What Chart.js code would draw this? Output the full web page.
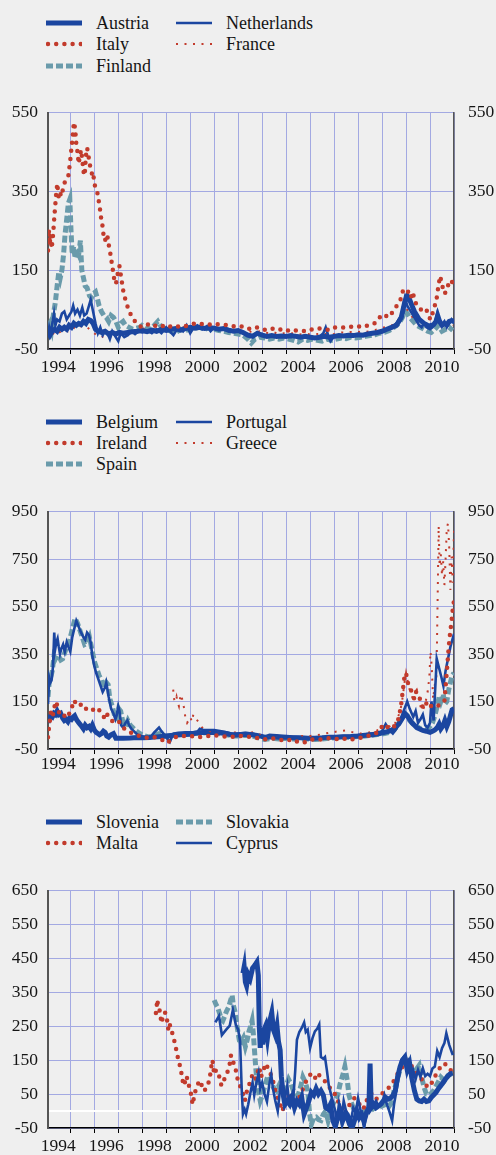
<!DOCTYPE html>
<html><head><meta charset="utf-8">
<script src="https://cdn.jsdelivr.net/npm/chart.js@4.4.1/dist/chart.umd.min.js"></script>
<style>
html,body{margin:0;padding:0;background:#efefef;}
body{width:496px;height:1155px;position:relative;overflow:hidden;font-family:"Liberation Serif","Times New Roman",serif;}
canvas{position:absolute;left:0;}
.lg{position:absolute;height:22px;line-height:22px;font-size:18px;color:#151515;white-space:nowrap;}
.lg svg{position:absolute;left:0;top:6px;}
.lg span{position:absolute;top:0;}
</style></head><body>
<canvas id="c1" width="496" height="292" style="top:88px"></canvas>
<canvas id="c2" width="496" height="290" style="top:487px"></canvas>
<canvas id="c3" width="496" height="289" style="top:866px"></canvas>
<script>
// ---------- tick labels ----------
const yTicks1 = [-50, 150, 350, 550];
const yTicks2 = [-50, 150, 350, 550, 750, 950];
const yTicks3 = [-50, 50, 150, 250, 350, 450, 550, 650];
const yearLabels = [1994, 1996, 1998, 2000, 2002, 2004, 2006, 2008, 2010];
const yearLines = [1995,1996,1997,1998,1999,2000,2001,2002,2003,2004,2005,2006,2007,2008,2009,2010,2011];

// ---------- panel 1 ----------
const austria = [[1994.07,-5],[1994.15,-15],[1994.25,-5],[1994.35,0],[1994.45,-5],[1994.55,5],[1994.65,0],[1994.75,5],[1994.85,0],[1994.95,10],[1995.05,5],[1995.15,15],[1995.25,10],[1995.35,15],[1995.45,12],[1995.55,20],[1995.65,15],[1995.75,25],[1995.85,22],[1995.95,15],[1996.05,0],[1996.15,-5],[1996.3,-8],[1996.45,-5],[1996.6,-12],[1996.75,-8],[1996.9,-12],[1997.05,-8],[1997.2,-10],[1997.4,-8],[1997.6,-6],[1997.8,-5],[1998.0,-3],[1998.2,-6],[1998.4,-2],[1998.6,-5],[1998.8,0],[1999.0,-3],[1999.2,0],[1999.4,2],[1999.6,-2],[1999.8,2],[2000.0,5],[2000.2,3],[2000.4,5],[2000.6,2],[2000.8,4],[2001.0,3],[2001.2,0],[2001.4,2],[2001.6,-2],[2001.8,-5],[2002.0,-3],[2002.2,-8],[2002.4,-15],[2002.6,-18],[2002.8,-10],[2003.0,-15],[2003.2,-18],[2003.4,-16],[2003.6,-18],[2003.8,-17],[2004.0,-18],[2004.2,-16],[2004.4,-18],[2004.6,-20],[2004.8,-18],[2005.0,-20],[2005.2,-22],[2005.4,-20],[2005.6,-18],[2005.8,-20],[2006.0,-18],[2006.2,-16],[2006.4,-17],[2006.6,-15],[2006.8,-16],[2007.0,-14],[2007.2,-15],[2007.4,-12],[2007.6,-10],[2007.8,-8],[2008.0,-5],[2008.2,0],[2008.4,5],[2008.6,10],[2008.8,30],[2008.95,70],[2009.05,85],[2009.15,75],[2009.25,60],[2009.35,45],[2009.45,35],[2009.55,25],[2009.65,20],[2009.75,15],[2009.85,12],[2009.95,8],[2010.05,10],[2010.15,12],[2010.25,20],[2010.32,35],[2010.4,20],[2010.5,10],[2010.6,15],[2010.7,12],[2010.8,20],[2010.9,22],[2011.0,20]];
const netherlands = [[1994.07,-15],[1994.12,5],[1994.18,-10],[1994.25,15],[1994.32,40],[1994.38,10],[1994.45,25],[1994.55,20],[1994.65,40],[1994.75,45],[1994.85,25],[1994.95,35],[1995.05,45],[1995.12,60],[1995.2,40],[1995.3,50],[1995.4,35],[1995.5,55],[1995.58,35],[1995.68,40],[1995.78,60],[1995.85,75],[1995.95,45],[1996.05,15],[1996.15,-10],[1996.25,5],[1996.35,-15],[1996.45,-5],[1996.55,-10],[1996.65,-25],[1996.75,-5],[1996.85,-15],[1997.0,-30],[1997.1,-10],[1997.25,-20],[1997.4,-15],[1997.55,-5],[1997.7,-12],[1997.85,-5],[1998.0,-8],[1998.2,-3],[1998.4,-10],[1998.6,0],[1998.8,-10],[1999.0,5],[1999.15,-5],[1999.3,-15],[1999.5,5],[1999.7,-5],[1999.85,10],[2000.0,-10],[2000.15,5],[2000.3,10],[2000.5,0],[2000.7,8],[2000.85,-5],[2001.0,5],[2001.2,0],[2001.4,3],[2001.6,-5],[2001.8,-3],[2002.0,-5],[2002.2,-10],[2002.4,-12],[2002.6,-15],[2002.8,-10],[2003.0,-12],[2003.2,-18],[2003.4,-15],[2003.6,-20],[2003.8,-16],[2004.0,-18],[2004.2,-20],[2004.4,-15],[2004.6,-18],[2004.8,-20],[2005.0,-18],[2005.2,-22],[2005.4,-18],[2005.55,-10],[2005.65,5],[2005.75,-15],[2005.85,-30],[2006.0,-18],[2006.2,-15],[2006.4,-18],[2006.6,-14],[2006.8,-16],[2007.0,-15],[2007.2,-13],[2007.4,-12],[2007.6,-10],[2007.8,-7],[2008.0,-5],[2008.2,0],[2008.4,5],[2008.6,15],[2008.8,35],[2008.95,80],[2009.05,60],[2009.15,50],[2009.25,40],[2009.35,30],[2009.45,20],[2009.55,10],[2009.65,5],[2009.75,15],[2009.85,5],[2010.0,0],[2010.1,5],[2010.2,15],[2010.3,40],[2010.38,20],[2010.48,10],[2010.6,20],[2010.7,5],[2010.8,15],[2010.9,25],[2011.0,15]];
const france = [[1994.07,-10],[1994.2,-20],[1994.35,-5],[1994.5,-10],[1994.7,0],[1994.9,-5],[1995.1,5],[1995.3,0],[1995.5,10],[1995.7,5],[1995.9,-5],[1996.1,-15],[1996.3,-20],[1996.5,-15],[1996.7,-18],[1996.9,-12],[1997.1,-10],[1997.3,-8],[1997.5,-5],[1997.7,-3],[1997.9,0],[1998.1,2],[1998.3,-2],[1998.5,3],[1998.7,0],[1998.9,5],[1999.1,2],[1999.3,5],[1999.5,0],[1999.7,5],[1999.9,3],[2000.1,5],[2000.3,8],[2000.5,5],[2000.7,7],[2000.9,5],[2001.1,3],[2001.3,5],[2001.5,2],[2001.7,0],[2001.9,-2],[2002.1,-5],[2002.3,-8],[2002.5,-6],[2002.7,-8],[2002.9,-5],[2003.1,-8],[2003.3,-10],[2003.5,-8],[2003.7,-12],[2003.9,-10],[2004.1,-12],[2004.3,-10],[2004.5,-12],[2004.7,-14],[2004.9,-12],[2005.1,-14],[2005.3,-12],[2005.5,-10],[2005.7,-12],[2005.9,-14],[2006.1,-10],[2006.3,-8],[2006.5,-9],[2006.7,-7],[2006.9,-8],[2007.1,-6],[2007.3,-7],[2007.5,-5],[2007.7,-2],[2007.9,2],[2008.1,5],[2008.3,8],[2008.5,12],[2008.7,25],[2008.9,45],[2009.0,55],[2009.1,45],[2009.2,35],[2009.35,25],[2009.5,15],[2009.65,8],[2009.8,10],[2009.95,5],[2010.1,8],[2010.25,15],[2010.35,20],[2010.5,8],[2010.65,12],[2010.8,15],[2010.95,10]];
const finland = [[1994.07,5],[1994.15,15],[1994.22,0],[1994.3,40],[1994.38,70],[1994.45,110],[1994.52,145],[1994.58,130],[1994.65,150],[1994.72,190],[1994.78,240],[1994.85,280],[1994.92,320],[1994.98,330],[1995.03,250],[1995.08,190],[1995.14,210],[1995.2,180],[1995.28,200],[1995.35,190],[1995.42,225],[1995.48,150],[1995.55,130],[1995.62,110],[1995.7,105],[1995.8,85],[1995.88,80],[1995.95,90],[1996.05,95],[1996.12,80],[1996.2,60],[1996.3,45],[1996.4,35],[1996.5,30],[1996.6,20],[1996.7,35],[1996.8,30],[1996.9,20],[1997.0,5],[1997.1,15],[1997.2,20],[1997.3,10],[1997.45,5],[1997.6,0],[1997.75,3],[1997.9,5],[1998.0,10],[1998.15,5],[1998.35,0],[1998.5,10],[1998.65,20],[1998.8,5],[1999.0,0],[1999.2,-5],[1999.4,-8],[1999.6,0],[1999.8,-3],[2000.0,0],[2000.2,3],[2000.4,5],[2000.6,0],[2000.8,5],[2001.0,0],[2001.2,-3],[2001.4,-5],[2001.6,-8],[2001.8,-10],[2002.0,-12],[2002.2,-15],[2002.4,-25],[2002.55,-35],[2002.7,-25],[2002.9,-20],[2003.1,-22],[2003.3,-25],[2003.5,-22],[2003.7,-25],[2003.9,-22],[2004.1,-25],[2004.3,-28],[2004.5,-32],[2004.7,-25],[2004.9,-28],[2005.1,-25],[2005.3,-28],[2005.5,-30],[2005.7,-25],[2005.9,-28],[2006.1,-25],[2006.3,-22],[2006.5,-24],[2006.7,-20],[2006.9,-22],[2007.1,-20],[2007.3,-18],[2007.5,-16],[2007.7,-14],[2007.9,-10],[2008.1,-8],[2008.3,-3],[2008.5,5],[2008.7,15],[2008.85,30],[2008.95,45],[2009.05,40],[2009.15,30],[2009.3,20],[2009.45,10],[2009.6,5],[2009.75,0],[2009.9,-5],[2010.05,-8],[2010.2,0],[2010.35,10],[2010.5,-5],[2010.65,0],[2010.8,5],[2010.95,-3]];
const italy = [[1994.07,200],[1994.1,255],[1994.14,215],[1994.18,240],[1994.22,205],[1994.26,225],[1994.3,255],[1994.34,290],[1994.38,320],[1994.42,350],[1994.46,370],[1994.5,340],[1994.55,330],[1994.6,345],[1994.65,340],[1994.7,360],[1994.78,375],[1994.85,380],[1994.92,390],[1995.0,430],[1995.05,460],[1995.1,490],[1995.15,525],[1995.2,510],[1995.25,470],[1995.3,450],[1995.35,420],[1995.4,440],[1995.45,455],[1995.5,430],[1995.55,400],[1995.6,390],[1995.65,440],[1995.7,460],[1995.75,445],[1995.8,420],[1995.85,410],[1995.9,395],[1995.95,400],[1996.0,370],[1996.05,360],[1996.1,355],[1996.15,340],[1996.2,320],[1996.25,300],[1996.3,275],[1996.35,260],[1996.4,230],[1996.45,225],[1996.5,240],[1996.55,235],[1996.6,215],[1996.65,200],[1996.7,180],[1996.75,160],[1996.8,140],[1996.85,120],[1996.9,115],[1996.95,130],[1997.0,150],[1997.05,160],[1997.1,140],[1997.15,120],[1997.2,100],[1997.25,85],[1997.3,75],[1997.35,65],[1997.4,55],[1997.5,40],[1997.6,28],[1997.7,20],[1997.8,12],[1997.9,8],[1998.0,5],[1998.15,8],[1998.3,15],[1998.45,10],[1998.6,8],[1998.75,5],[1998.9,10],[1999.05,5],[1999.2,8],[1999.4,5],[1999.6,10],[1999.8,8],[2000.0,12],[2000.2,15],[2000.4,12],[2000.6,15],[2000.8,12],[2001.0,15],[2001.2,12],[2001.4,10],[2001.6,12],[2001.8,8],[2002.0,5],[2002.2,8],[2002.4,2],[2002.6,0],[2002.8,5],[2003.0,0],[2003.2,-2],[2003.4,2],[2003.6,-3],[2003.8,0],[2004.0,-5],[2004.2,0],[2004.4,-3],[2004.6,-2],[2004.8,-5],[2005.0,0],[2005.2,-2],[2005.4,2],[2005.6,0],[2005.8,-2],[2006.0,5],[2006.2,3],[2006.4,5],[2006.6,8],[2006.8,5],[2007.0,8],[2007.2,5],[2007.4,10],[2007.6,12],[2007.8,20],[2007.95,35],[2008.1,38],[2008.25,30],[2008.4,40],[2008.55,55],[2008.7,65],[2008.8,80],[2008.88,100],[2008.95,102],[2009.05,100],[2009.12,90],[2009.2,80],[2009.28,95],[2009.35,75],[2009.45,60],[2009.55,55],[2009.65,48],[2009.75,45],[2009.85,50],[2009.95,30],[2010.05,25],[2010.12,45],[2010.2,60],[2010.28,80],[2010.35,110],[2010.42,135],[2010.48,120],[2010.55,100],[2010.62,90],[2010.7,105],[2010.78,115],[2010.85,110],[2010.92,120],[2011.0,140]];

// ---------- panel 2 ----------
const belgium = [[1994.07,60],[1994.12,80],[1994.18,90],[1994.25,85],[1994.32,100],[1994.38,95],[1994.45,110],[1994.52,95],[1994.6,100],[1994.68,80],[1994.75,70],[1994.82,75],[1994.9,65],[1994.97,80],[1995.05,75],[1995.12,85],[1995.18,90],[1995.25,75],[1995.32,65],[1995.4,55],[1995.48,45],[1995.55,35],[1995.62,50],[1995.7,40],[1995.78,45],[1995.85,35],[1995.92,50],[1996.0,30],[1996.08,20],[1996.15,15],[1996.22,10],[1996.3,15],[1996.38,25],[1996.45,20],[1996.52,5],[1996.6,0],[1996.7,10],[1996.8,15],[1996.9,-5],[1997.0,-5],[1997.2,-5],[1997.5,-4],[1997.8,-2],[1998.0,-3],[1998.3,-2],[1998.5,0],[1998.8,3],[1999.0,5],[1999.3,8],[1999.6,10],[2000.0,12],[2000.3,18],[2000.6,20],[2000.9,20],[2001.2,18],[2001.5,15],[2001.8,8],[2002.0,10],[2002.3,12],[2002.6,10],[2002.9,5],[2003.1,0],[2003.4,2],[2003.7,0],[2004.0,0],[2004.3,-3],[2004.6,-3],[2004.9,-5],[2005.2,-5],[2005.5,-3],[2005.8,0],[2006.1,0],[2006.4,2],[2006.7,3],[2007.0,5],[2007.3,8],[2007.6,10],[2007.9,15],[2008.1,20],[2008.3,25],[2008.5,35],[2008.7,55],[2008.85,80],[2008.95,100],[2009.05,90],[2009.15,75],[2009.25,60],[2009.35,50],[2009.45,40],[2009.55,35],[2009.7,28],[2009.85,25],[2010.0,20],[2010.1,25],[2010.2,30],[2010.3,40],[2010.38,55],[2010.45,35],[2010.55,50],[2010.62,70],[2010.7,45],[2010.78,65],[2010.85,90],[2010.92,115],[2011.0,120]];
const portugal = [[1994.07,140],[1994.12,250],[1994.17,230],[1994.22,240],[1994.28,300],[1994.33,440],[1994.37,370],[1994.42,400],[1994.47,415],[1994.52,380],[1994.57,350],[1994.62,370],[1994.7,390],[1994.77,360],[1994.85,400],[1994.92,380],[1995.0,360],[1995.08,420],[1995.15,450],[1995.25,490],[1995.35,465],[1995.45,440],[1995.55,420],[1995.62,410],[1995.7,440],[1995.78,430],[1995.85,400],[1995.92,340],[1996.0,300],[1996.08,270],[1996.15,250],[1996.25,220],[1996.35,190],[1996.45,210],[1996.5,230],[1996.6,170],[1996.7,120],[1996.8,100],[1996.88,75],[1996.93,90],[1997.0,130],[1997.05,110],[1997.12,50],[1997.2,40],[1997.3,60],[1997.38,70],[1997.45,50],[1997.55,35],[1997.65,25],[1997.8,10],[1997.95,5],[1998.1,0],[1998.3,-5],[1998.5,20],[1998.7,40],[1998.8,25],[1999.0,0],[1999.15,-20],[1999.3,15],[1999.5,18],[1999.8,20],[2000.1,20],[2000.3,22],[2000.4,35],[2000.55,30],[2000.8,30],[2001.0,30],[2001.3,25],[2001.5,20],[2001.7,15],[2002.0,15],[2002.3,18],[2002.6,15],[2002.9,5],[2003.1,0],[2003.3,10],[2003.6,8],[2003.9,5],[2004.2,2],[2004.5,0],[2004.8,-5],[2005.1,-5],[2005.4,-3],[2005.7,0],[2006.0,3],[2006.3,5],[2006.6,5],[2006.9,8],[2007.2,10],[2007.5,15],[2007.8,18],[2008.0,25],[2008.15,55],[2008.3,30],[2008.45,15],[2008.6,35],[2008.75,70],[2008.9,110],[2009.05,150],[2009.15,120],[2009.3,85],[2009.4,110],[2009.5,60],[2009.6,75],[2009.7,95],[2009.8,50],[2009.9,40],[2010.0,60],[2010.06,150],[2010.15,70],[2010.28,330],[2010.38,290],[2010.48,250],[2010.56,215],[2010.65,280],[2010.75,330],[2010.85,380],[2011.0,435]];
const spain = [[1994.07,170],[1994.12,230],[1994.18,250],[1994.25,280],[1994.32,340],[1994.38,330],[1994.45,345],[1994.52,340],[1994.6,325],[1994.68,330],[1994.75,350],[1994.85,380],[1994.95,400],[1995.05,440],[1995.12,470],[1995.2,500],[1995.3,480],[1995.4,450],[1995.5,420],[1995.6,390],[1995.7,395],[1995.8,420],[1995.9,370],[1996.0,320],[1996.1,290],[1996.2,260],[1996.3,240],[1996.4,210],[1996.5,230],[1996.58,220],[1996.65,160],[1996.75,130],[1996.85,90],[1996.95,80],[1997.02,120],[1997.1,110],[1997.2,60],[1997.3,45],[1997.4,70],[1997.5,50],[1997.6,40],[1997.75,25],[1997.9,15],[1998.1,5],[1998.3,0],[1998.5,10],[1998.7,15],[1998.9,5],[1999.1,5],[1999.4,10],[1999.7,12],[2000.0,15],[2000.3,15],[2000.6,18],[2000.9,20],[2001.2,15],[2001.5,10],[2001.8,5],[2002.0,5],[2002.3,8],[2002.6,5],[2002.9,-5],[2003.1,-10],[2003.4,-5],[2003.7,-8],[2004.0,-5],[2004.3,-8],[2004.6,-10],[2004.9,-8],[2005.2,-10],[2005.5,-8],[2005.8,-5],[2006.1,-3],[2006.4,0],[2006.7,0],[2007.0,3],[2007.3,5],[2007.6,8],[2007.9,12],[2008.1,15],[2008.3,20],[2008.5,30],[2008.7,60],[2008.85,85],[2008.95,100],[2009.05,90],[2009.15,70],[2009.3,55],[2009.45,45],[2009.6,35],[2009.75,40],[2009.9,35],[2010.0,45],[2010.1,60],[2010.2,90],[2010.3,130],[2010.38,170],[2010.45,150],[2010.55,180],[2010.62,140],[2010.7,150],[2010.78,200],[2010.85,230],[2010.92,260],[2011.0,270]];
const ireland = [[1994.07,0],[1994.1,30],[1994.14,60],[1994.18,100],[1994.22,110],[1994.27,90],[1994.32,120],[1994.37,140],[1994.42,150],[1994.48,115],[1994.55,100],[1994.62,90],[1994.72,95],[1994.82,80],[1994.92,90],[1995.0,110],[1995.08,130],[1995.15,155],[1995.22,145],[1995.3,135],[1995.38,130],[1995.45,138],[1995.52,140],[1995.6,125],[1995.7,115],[1995.8,115],[1995.9,110],[1996.0,120],[1996.1,125],[1996.2,115],[1996.3,100],[1996.4,85],[1996.5,105],[1996.6,80],[1996.7,70],[1996.8,65],[1996.9,70],[1997.0,70],[1997.1,55],[1997.2,40],[1997.35,30],[1997.5,20],[1997.7,10],[1997.9,5],[1998.1,0],[1998.3,-5],[1998.5,0],[1998.7,-5],[1998.9,-15],[1999.05,-25],[1999.2,-10],[1999.4,0],[1999.6,3],[1999.8,5],[2000.0,3],[2000.2,5],[2000.4,0],[2000.6,2],[2000.8,5],[2001.0,8],[2001.2,5],[2001.4,3],[2001.6,0],[2001.8,2],[2002.0,5],[2002.3,3],[2002.6,0],[2002.9,-5],[2003.2,-10],[2003.5,-5],[2003.8,-12],[2004.0,-15],[2004.2,-10],[2004.4,-20],[2004.6,-15],[2004.8,-22],[2005.0,-12],[2005.2,-8],[2005.4,-10],[2005.7,-5],[2006.0,-5],[2006.2,-10],[2006.4,-5],[2006.6,-12],[2006.8,-8],[2007.0,-5],[2007.2,0],[2007.4,5],[2007.6,10],[2007.8,20],[2008.0,45],[2008.1,55],[2008.25,40],[2008.4,35],[2008.55,50],[2008.7,80],[2008.8,140],[2008.87,200],[2008.93,250],[2009.0,270],[2009.05,240],[2009.1,220],[2009.2,200],[2009.28,175],[2009.35,160],[2009.42,190],[2009.5,185],[2009.58,160],[2009.65,140],[2009.72,120],[2009.8,130],[2009.88,150],[2009.95,140],[2010.05,130],[2010.15,125],[2010.3,130],[2010.45,140],[2010.6,150],[2010.72,300],[2010.78,380],[2010.84,440],[2010.9,490],[2010.95,540],[2011.0,575]];
const greece = [[1999.29,200],[1999.33,160],[1999.38,150],[1999.43,170],[1999.48,145],[1999.53,130],[1999.58,165],[1999.63,180],[1999.68,150],[1999.75,120],[1999.8,80],[1999.87,60],[1999.93,70],[2000.0,85],[2000.07,65],[2000.13,95],[2000.2,85],[2000.3,70],[2000.4,55],[2000.5,40],[2000.6,35],[2000.7,30],[2000.85,25],[2001.0,28],[2001.2,25],[2001.4,20],[2001.6,15],[2001.8,20],[2002.0,18],[2002.3,15],[2002.6,20],[2002.9,10],[2003.2,5],[2003.5,8],[2003.8,5],[2004.1,3],[2004.4,0],[2004.7,5],[2005.0,5],[2005.3,8],[2005.6,15],[2005.9,20],[2006.2,25],[2006.5,28],[2006.8,20],[2007.1,15],[2007.4,18],[2007.7,25],[2008.0,35],[2008.2,60],[2008.35,40],[2008.5,50],[2008.65,80],[2008.75,110],[2008.82,140],[2008.9,200],[2008.95,240],[2009.0,270],[2009.08,230],[2009.15,200],[2009.22,185],[2009.3,150],[2009.38,190],[2009.45,200],[2009.52,180],[2009.6,130],[2009.68,110],[2009.75,125],[2009.82,150],[2009.9,190],[2009.97,250],[2010.02,360],[2010.07,300],[2010.13,160],[2010.2,220],[2010.27,260],[2010.32,600],[2010.36,890],[2010.4,720],[2010.45,770],[2010.5,680],[2010.55,740],[2010.6,640],[2010.65,750],[2010.7,880],[2010.75,900],[2010.8,800],[2010.85,620],[2010.9,760],[2010.95,650],[2011.0,870]];

// ---------- panel 3 ----------
const slovenia = [[2002.2,406],[2002.25,425],[2002.3,380],[2002.35,369],[2002.42,402],[2002.5,390],[2002.6,421],[2002.7,430],[2002.78,439],[2002.84,400],[2002.88,250],[2002.92,186],[2002.97,233],[2003.02,196],[2003.08,240],[2003.15,252],[2003.22,215],[2003.3,260],[2003.4,290],[2003.47,240],[2003.55,224],[2003.62,250],[2003.68,205],[2003.75,180],[2003.8,102],[2003.88,47],[2003.95,19],[2004.05,30],[2004.15,20],[2004.25,40],[2004.35,10],[2004.45,30],[2004.55,20],[2004.65,40],[2004.75,-9],[2004.85,10],[2004.95,30],[2005.05,55],[2005.15,47],[2005.25,66],[2005.35,50],[2005.45,60],[2005.55,47],[2005.65,10],[2005.75,5],[2005.85,20],[2005.95,-28],[2006.05,-46],[2006.15,-20],[2006.25,0],[2006.35,-30],[2006.45,-10],[2006.55,-20],[2006.65,-40],[2006.75,-50],[2006.85,-28],[2006.95,0],[2007.05,-20],[2007.15,-10],[2007.25,-30],[2007.35,-5],[2007.45,10],[2007.5,140],[2007.55,10],[2007.65,20],[2007.75,10],[2007.85,15],[2007.95,20],[2008.05,30],[2008.15,40],[2008.25,35],[2008.35,38],[2008.45,45],[2008.55,60],[2008.65,100],[2008.75,130],[2008.85,150],[2008.95,159],[2009.05,121],[2009.15,140],[2009.25,94],[2009.35,60],[2009.45,35],[2009.55,30],[2009.65,28],[2009.75,35],[2009.85,28],[2009.95,30],[2010.05,40],[2010.15,47],[2010.25,55],[2010.35,66],[2010.45,75],[2010.55,84],[2010.65,95],[2010.75,103],[2010.85,110],[2010.95,112]];
const malta = [[1998.57,289],[1998.63,328],[1998.66,309],[1998.7,306],[1998.75,285],[1998.8,259],[1998.88,281],[1998.95,291],[1999.03,270],[1999.08,243],[1999.13,260],[1999.2,240],[1999.28,224],[1999.35,203],[1999.42,180],[1999.48,159],[1999.55,140],[1999.62,117],[1999.67,96],[1999.72,75],[1999.78,85],[1999.85,103],[1999.92,80],[2000.0,64],[2000.05,43],[2000.1,19],[2000.15,38],[2000.22,60],[2000.3,75],[2000.38,90],[2000.45,80],[2000.52,71],[2000.6,59],[2000.68,75],[2000.75,80],[2000.82,100],[2000.88,131],[2000.93,150],[2001.0,108],[2001.08,121],[2001.15,110],[2001.22,100],[2001.3,75],[2001.38,84],[2001.46,103],[2001.55,115],[2001.62,126],[2001.7,164],[2001.77,145],[2001.83,140],[2001.9,121],[2001.96,98],[2002.05,80],[2002.12,65],[2002.2,50],[2002.28,30],[2002.35,55],[2002.45,75],[2002.55,100],[2002.65,110],[2002.72,95],[2002.8,112],[2002.88,130],[2002.95,100],[2003.05,120],[2003.15,140],[2003.25,125],[2003.35,110],[2003.45,90],[2003.55,60],[2003.65,40],[2003.75,20],[2003.85,0],[2003.95,30],[2004.05,47],[2004.15,40],[2004.25,28],[2004.35,10],[2004.45,25],[2004.55,40],[2004.65,55],[2004.75,75],[2004.85,90],[2004.95,100],[2005.05,112],[2005.15,105],[2005.25,94],[2005.35,108],[2005.45,100],[2005.55,94],[2005.65,85],[2005.75,75],[2005.85,66],[2005.95,60],[2006.05,47],[2006.15,30],[2006.25,19],[2006.35,10],[2006.45,-9],[2006.55,5],[2006.65,20],[2006.75,30],[2006.85,38],[2006.95,28],[2007.05,20],[2007.15,25],[2007.25,10],[2007.35,30],[2007.45,45],[2007.55,52],[2007.65,43],[2007.75,35],[2007.85,40],[2007.95,47],[2008.05,55],[2008.15,60],[2008.25,66],[2008.35,75],[2008.45,85],[2008.55,94],[2008.65,110],[2008.75,121],[2008.85,130],[2008.95,140],[2009.05,150],[2009.15,140],[2009.25,131],[2009.35,121],[2009.45,110],[2009.55,100],[2009.65,94],[2009.75,85],[2009.85,75],[2009.95,70],[2010.05,80],[2010.15,94],[2010.25,108],[2010.35,121],[2010.45,130],[2010.55,140],[2010.65,138],[2010.75,130],[2010.85,121],[2010.95,115]];
const slovakia = [[2001.0,327],[2001.07,315],[2001.14,306],[2001.22,289],[2001.3,270],[2001.36,266],[2001.44,280],[2001.52,295],[2001.6,306],[2001.68,325],[2001.75,341],[2001.8,311],[2001.88,290],[2001.95,252],[2002.02,220],[2002.08,196],[2002.15,205],[2002.22,215],[2002.3,190],[2002.38,210],[2002.45,235],[2002.52,250],[2002.58,266],[2002.63,230],[2002.68,180],[2002.73,130],[2002.78,90],[2002.85,56],[2002.92,30],[2003.0,45],[2003.1,70],[2003.2,95],[2003.3,103],[2003.4,80],[2003.5,66],[2003.6,60],[2003.7,75],[2003.8,60],[2003.9,56],[2004.0,75],[2004.1,94],[2004.2,80],[2004.3,60],[2004.4,50],[2004.5,47],[2004.6,70],[2004.7,100],[2004.8,85],[2004.9,60],[2004.98,-9],[2005.05,-40],[2005.15,-20],[2005.25,-18],[2005.35,-25],[2005.45,-28],[2005.55,-10],[2005.65,0],[2005.75,-28],[2005.85,0],[2005.95,19],[2006.05,35],[2006.15,47],[2006.25,80],[2006.35,103],[2006.45,131],[2006.55,90],[2006.62,47],[2006.7,28],[2006.8,10],[2006.9,0],[2007.0,-9],[2007.1,0],[2007.2,-5],[2007.3,0],[2007.4,-3],[2007.5,0],[2007.6,5],[2007.7,10],[2007.8,15],[2007.9,12],[2008.0,15],[2008.1,18],[2008.2,20],[2008.3,15],[2008.4,25],[2008.5,60],[2008.6,85],[2008.7,110],[2008.85,146],[2009.0,150],[2009.15,130],[2009.3,110],[2009.45,125],[2009.55,135],[2009.65,100],[2009.75,70],[2009.85,50],[2010.0,48],[2010.15,60],[2010.3,80],[2010.45,100],[2010.6,90],[2010.75,105],[2010.9,110],[2011.0,108]];
const cyprus = [[2001.05,261],[2001.2,280],[2001.32,224],[2001.5,240],[2001.65,252],[2001.78,298],[2001.9,255],[2002.0,240],[2002.08,205],[2002.15,60],[2002.2,-9],[2002.27,5],[2002.33,-9],[2002.42,20],[2002.5,50],[2002.6,84],[2002.67,47],[2002.75,80],[2002.85,112],[2002.92,66],[2003.0,84],[2003.1,50],[2003.2,28],[2003.3,80],[2003.38,108],[2003.45,66],[2003.55,30],[2003.65,0],[2003.75,66],[2003.85,50],[2003.95,38],[2004.05,75],[2004.12,28],[2004.2,45],[2004.3,38],[2004.38,120],[2004.45,210],[2004.55,233],[2004.65,245],[2004.75,261],[2004.82,233],[2004.9,240],[2005.0,186],[2005.1,215],[2005.2,235],[2005.3,243],[2005.38,255],[2005.45,159],[2005.55,154],[2005.62,159],[2005.7,120],[2005.78,75],[2005.88,47],[2005.95,28],[2006.05,0],[2006.12,-28],[2006.2,20],[2006.3,-28],[2006.4,30],[2006.5,0],[2006.6,-10],[2006.7,-30],[2006.8,10],[2006.9,-5],[2007.0,38],[2007.08,10],[2007.17,-20],[2007.25,-50],[2007.35,-10],[2007.45,28],[2007.55,10],[2007.65,20],[2007.75,30],[2007.85,15],[2008.0,20],[2008.1,47],[2008.2,20],[2008.3,0],[2008.42,-28],[2008.5,20],[2008.6,60],[2008.7,100],[2008.8,150],[2008.9,159],[2009.0,140],[2009.1,150],[2009.2,103],[2009.3,120],[2009.4,94],[2009.5,121],[2009.6,100],[2009.7,126],[2009.8,103],[2009.9,110],[2010.0,103],[2010.1,125],[2010.2,131],[2010.3,177],[2010.4,159],[2010.5,185],[2010.6,200],[2010.68,229],[2010.8,195],[2010.95,165]];

// ---------- styles ----------
const BLUE = '#1b46a0', RED = '#c23b2c', TEAL = '#6a9bab', GRID = '#a3a9e2';
const FONT = '"Liberation Serif","Times New Roman",serif';
const STY = {
  thick: {color: BLUE, width: 5, dash: [], cap: 'butt', svgDash: ''},
  thin: {color: BLUE, width: 2.6, dash: [], cap: 'butt', svgDash: ''},
  bigDots: {color: RED, width: 4.5, dash: [0, 8.2], cap: 'round', svgDash: '0 8.2'},
  smallDots: {color: RED, width: 2, dash: [2, 6.5], cap: 'butt', svgDash: '2 6.5'},
  dashed: {color: TEAL, width: 5, dash: [7, 3], cap: 'butt', svgDash: '7 3'}
};

function legend(items) {
  items.forEach(it => {
    const s = STY[it.style];
    const d = document.createElement('div');
    d.className = 'lg';
    d.style.left = it.lx + 'px';
    d.style.top = (it.cy - 11) + 'px';
    d.style.width = '200px';
    d.innerHTML = '<svg width="36" height="10"><line x1="' + (s.cap === 'round' ? 2 : 0) + '" y1="5" x2="36" y2="5" stroke="' + s.color +
      '" stroke-width="' + s.width + '" stroke-linecap="' + s.cap + '"' + (s.svgDash ? ' stroke-dasharray="' + s.svgDash + '"' : '') + '/></svg>' +
      '<span style="left:' + (it.tx - it.lx) + 'px">' + it.name + '</span>';
    document.body.appendChild(d);
  });
}

function makeChart(id, series, yMin, yMax, yTicks, xh, xPad, zeroLine) {
  const ds = series.map(s => {
    const st = STY[s.style];
    return {label: s.name, data: s.data, borderColor: st.color, borderWidth: st.width,
      borderDash: st.dash, borderCapStyle: st.cap, borderJoinStyle: st.cap === 'round' ? 'round' : 'miter',
      pointRadius: 0, tension: 0, fill: false, order: s.z};
  });
  const yt = zeroLine ? yTicks.concat([0]).sort((a, b) => a - b) : yTicks;
  const tickFont = {family: FONT, size: 17.5};
  const yCommon = {
    type: 'linear', min: yMin, max: yMax,
    afterBuildTicks: sc => { sc.ticks = yt.map(v => ({value: v})); },
    ticks: {font: tickFont, color: '#151515', callback: v => (zeroLine && v === 0) ? '' : String(v)}
  };
  new Chart(document.getElementById(id), {
    type: 'line',
    data: {datasets: ds},
    options: {
      responsive: false, animation: false, devicePixelRatio: 1,
      layout: {padding: {top: 12, left: 0, right: 0, bottom: 0}},
      plugins: {legend: {display: false}, tooltip: {enabled: false}},
      scales: {
        x: {
          type: 'linear', min: 1994.07, max: 2011,
          afterBuildTicks: sc => {
            const t = yearLines.concat(yearLabels.map(y => y + 0.5)).sort((a, b) => a - b);
            sc.ticks = t.map(v => ({value: v}));
          },
          afterFit: sc => { sc.height = xh; },
          grid: {
            color: c => (c.tick && Number.isInteger(c.tick.value)) ? GRID : 'rgba(0,0,0,0)',
            tickColor: c => (c.tick && Number.isInteger(c.tick.value)) ? '#000' : 'rgba(0,0,0,0)',
            tickLength: 5, lineWidth: 1
          },
          border: {color: '#000', width: 1.5},
          ticks: {autoSkip: false, maxRotation: 0, minRotation: 0, padding: xPad, font: tickFont, color: '#151515',
            callback: v => (Math.abs(v % 1 - 0.5) < 1e-6) ? String(Math.round(v - 0.5)) : ''}
        },
        y: Object.assign({}, yCommon, {
          position: 'left',
          afterFit: sc => { sc.width = 48; },
          grid: {color: c => (zeroLine && c.tick && c.tick.value === 0) ? '#ffffff' : GRID,
                 lineWidth: c => (zeroLine && c.tick && c.tick.value === 0) ? 2 : 1, drawTicks: false},
          border: {color: '#555', width: 2},
          ticks: Object.assign({}, yCommon.ticks, {padding: 10})
        }),
        y2: Object.assign({}, yCommon, {
          position: 'right',
          afterFit: sc => { sc.width = 42; },
          grid: {drawOnChartArea: false, drawTicks: false},
          border: {color: '#555', width: 1.5},
          ticks: Object.assign({}, yCommon.ticks, {padding: 14})
        })
      }
    }
  });
}

// legends
legend([
  {name: 'Austria', style: 'thick', lx: 46, tx: 96, cy: 23},
  {name: 'Italy', style: 'bigDots', lx: 46, tx: 96, cy: 44},
  {name: 'Finland', style: 'dashed', lx: 46, tx: 96, cy: 66},
  {name: 'Netherlands', style: 'thin', lx: 176, tx: 226, cy: 23},
  {name: 'France', style: 'smallDots', lx: 176, tx: 226, cy: 44},
  {name: 'Belgium', style: 'thick', lx: 46, tx: 96, cy: 422},
  {name: 'Ireland', style: 'bigDots', lx: 46, tx: 96, cy: 443},
  {name: 'Spain', style: 'dashed', lx: 46, tx: 96, cy: 464},
  {name: 'Portugal', style: 'thin', lx: 176, tx: 226, cy: 422},
  {name: 'Greece', style: 'smallDots', lx: 176, tx: 226, cy: 443},
  {name: 'Slovenia', style: 'thick', lx: 46, tx: 96, cy: 822},
  {name: 'Malta', style: 'bigDots', lx: 46, tx: 96, cy: 843},
  {name: 'Slovakia', style: 'dashed', lx: 176, tx: 226, cy: 822},
  {name: 'Cyprus', style: 'thin', lx: 176, tx: 226, cy: 843}
]);

makeChart('c1', [
  {name: 'Italy', style: 'bigDots', data: italy, z: 0},
  {name: 'Netherlands', style: 'thin', data: netherlands, z: 1},
  {name: 'Austria', style: 'thick', data: austria, z: 2},
  {name: 'France', style: 'smallDots', data: france, z: 3},
  {name: 'Finland', style: 'dashed', data: finland, z: 4}
], -50, 550, yTicks1, 31, 3, false);

makeChart('c2', [
  {name: 'Ireland', style: 'bigDots', data: ireland, z: 0},
  {name: 'Portugal', style: 'thin', data: portugal, z: 1},
  {name: 'Greece', style: 'smallDots', data: greece, z: 2},
  {name: 'Belgium', style: 'thick', data: belgium, z: 3},
  {name: 'Spain', style: 'dashed', data: spain, z: 4}
], -50, 950, yTicks2, 28, 0, false);

makeChart('c3', [
  {name: 'Slovenia', style: 'thick', data: slovenia, z: 0},
  {name: 'Cyprus', style: 'thin', data: cyprus, z: 1},
  {name: 'Malta', style: 'bigDots', data: malta, z: 2},
  {name: 'Slovakia', style: 'dashed', data: slovakia, z: 3}
], -50, 650, yTicks3, 27, 3, true);
</script>
</body></html>
